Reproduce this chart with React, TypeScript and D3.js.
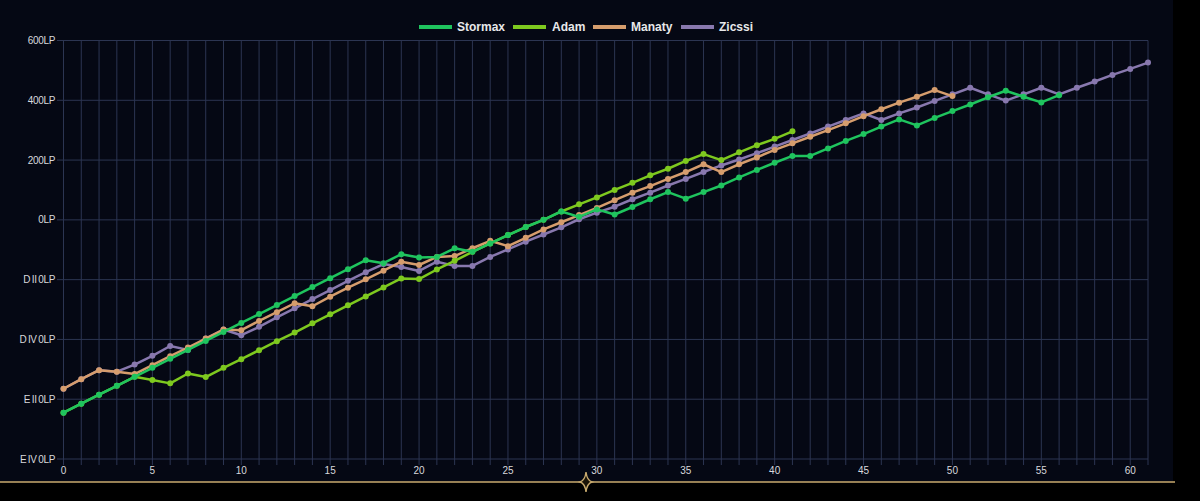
import React from "react";
import * as d3 from "d3";

const seriesNames = ["Stormax", "Adam", "Manaty", "Zicssi"];
const seriesColors = ["#1fc45e", "#7ec91f", "#d69d6d", "#8878ae"];

const stormax = [-645,-615,-585,-555,-525,-495,-465,-435,-405,-375,-345,-315,-285,-255,-225,-195,-165,-135,-145,-115,-126,-124,-95,-107,-79,-51,-24,0,28,10,35,18,43,69,93,71,93,115,142,167,191,214,214,239,264,287,312,336,316,341,364,386,410,432,412,393,417];
const adam = [-645,-615,-585,-555,-525,-536,-547,-514,-526,-495,-466,-436,-406,-377,-346,-316,-286,-256,-226,-196,-198,-166,-137,-107,-79,-51,-24,0,28,52,75,100,124,149,171,197,220,200,226,250,271,296];
const manaty = [-565,-533,-503,-508,-516,-486,-456,-427,-397,-367,-369,-338,-309,-279,-289,-257,-227,-199,-170,-140,-151,-124,-121,-95,-70,-88,-60,-32,-8,16,40,66,91,113,137,160,186,160,186,209,234,256,278,300,323,347,370,392,412,434,414];
const zicssi = [-565,-533,-503,-508,-484,-455,-422,-435,-397,-367,-386,-358,-326,-296,-265,-235,-204,-175,-148,-158,-171,-140,-154,-154,-124,-99,-73,-49,-25,2,24,44,69,91,115,137,160,182,202,223,245,267,289,312,334,356,334,356,376,398,420,442,420,399,420,442,420,442,463,485,505,526];

const yTickValues = [-800, -600, -400, -200, 0, 200, 400, 600];
const yTickLabels = ["E IV 0LP", "E II 0LP", "D IV 0LP", "D II 0LP", "0LP", "200LP", "400LP", "600LP"];
const xMax = 61;
const xTickLabels = [0, 5, 10, 15, 20, 25, 30, 35, 40, 45, 50, 55, 60];

export default function App() {
  const W = 1200, H = 501;
  const x = d3.scaleLinear().domain([0, xMax]).range([63.5, 1148]);
  const y = d3.scaleLinear().domain([-800, 600]).range([459, 40.5]);
  const allSeries = [stormax, adam, manaty, zicssi];
  const line = d3.line<number>().x((_, i) => x(i)).y((d) => y(d));
  const gridColor = "#2c3552";
  const font = "'Liberation Sans', Arial, sans-serif";
  const xGrid = d3.range(0, xMax + 1);

  const legendItems = [
    { sx: 419, tx: 457 },
    { sx: 513, tx: 552 },
    { sx: 593, tx: 631 },
    { sx: 681, tx: 719 },
  ];

  const drawOrder = [3, 2, 1, 0];

  return (
    <svg width={W} height={H} style={{ position: "absolute", left: 0, top: 0, display: "block" }}>
      <rect x={0} y={0} width={W} height={H} fill="#000" />
      <rect x={0} y={0} width={1173} height={482} fill="#050814" />
      {xGrid.map((i) => (
        <line key={"vx" + i} x1={x(i)} x2={x(i)} y1={y(600)} y2={465} stroke={gridColor} strokeWidth={1} />
      ))}
      {yTickValues.map((v) => (
        <line key={"hy" + v} x1={57} x2={x(xMax)} y1={y(v)} y2={y(v)} stroke={gridColor} strokeWidth={1} />
      ))}
      {yTickValues.map((v, k) => (
        <text key={"yl" + v} x={55} y={y(v)} dy="0.35em" textAnchor="end" fill="#d8d8dc" fontSize={10} wordSpacing={-0.8} letterSpacing={-0.35} fontFamily={font}>
          {yTickLabels[k]}
        </text>
      ))}
      {xTickLabels.map((t) => (
        <text key={"xl" + t} x={x(t)} y={474} textAnchor="middle" fill="#d8d8dc" fontSize={10} fontFamily={font}>
          {t}
        </text>
      ))}
      {drawOrder.map((si) => (
        <g key={"s" + si}>
          <path d={line(allSeries[si]) || ""} fill="none" stroke={seriesColors[si]} strokeWidth={2.5} strokeLinejoin="round" />
          {allSeries[si].map((d, i) => (
            <circle key={i} cx={x(i)} cy={y(d)} r={3} fill={seriesColors[si]} />
          ))}
        </g>
      ))}
      {seriesNames.map((n, k) => (
        <g key={"lg" + n}>
          <rect x={legendItems[k].sx} y={25} width={33} height={4} fill={seriesColors[k]} />
          <text x={legendItems[k].tx} y={27} dy="0.35em" fill="#e8e8ea" fontSize={12} fontWeight="bold" fontFamily={font}>
            {n}
          </text>
        </g>
      ))}
      <line x1={0} x2={1175} y1={482} y2={482} stroke="#c8aa6e" strokeWidth={1.5} />
      <path
        transform="translate(586,482)"
        d="M0,-10 Q1,-1.5 6,0 Q1,1.5 0,10 Q-1,1.5 -6,0 Q-1,-1.5 0,-10 Z"
        fill="#1a1408"
        stroke="#c8aa6e"
        strokeWidth={1.4}
      />
    </svg>
  );
}
